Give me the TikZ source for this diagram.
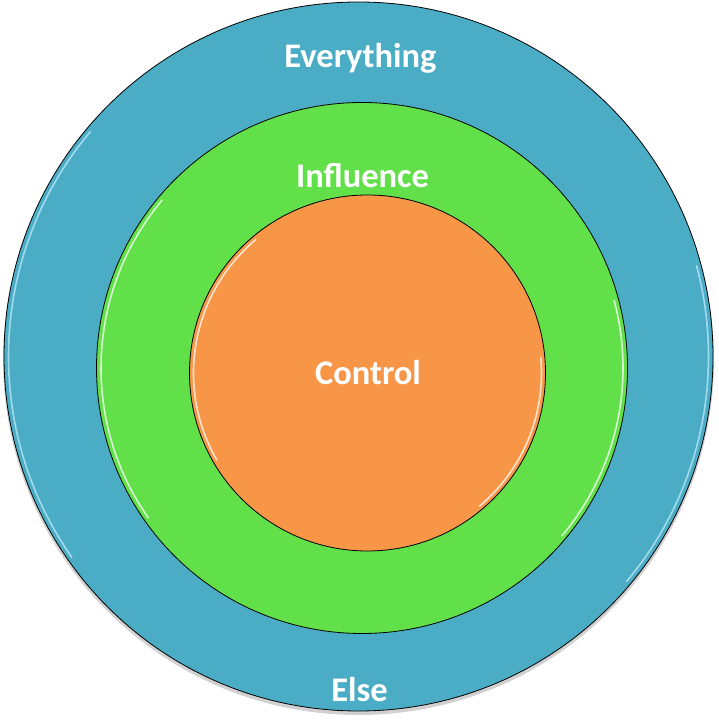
\documentclass[tikz,border=0pt]{standalone}
\usepackage{fontspec}
\setmainfont{Carlito}
\usetikzlibrary{positioning}
\definecolor{elseblue}{HTML}{4BACC6}
\definecolor{inflgreen}{HTML}{62E04A}
\definecolor{ctrlorange}{HTML}{F79646}

\begin{document}
\begin{tikzpicture}[x=1pt, y=1pt,
      ring/.style={circle, draw=black, line width=0.8pt, inner sep=0pt},
      lbl/.style={text=white, anchor=base, font=\fontsize{34.5}{38}\selectfont\bfseries},
      gloss/.style={white, line width=1.6pt, opacity=0.75, line cap=round}
    ]
    \useasboundingbox (0,0) rectangle (718,720);

    % soft shadow under the outer ring
    \fill[black, opacity=0.18] (358.5,360.5) circle[radius=355.5];

    % the three rings
    \node[ring, fill=elseblue, minimum size=709pt] (everything) at (358.5,363.5) {};
    \node[ring, fill=inflgreen, minimum size=531pt] (influence) at (362,352) {};
    \node[ring, fill=ctrlorange, minimum size=356pt] (control) at (367.5,347) {};

    % highlights
    \draw[gloss, cyan!25] (everything.center) ++(140:350) arc[start angle=140, end angle=215, radius=350];
    \draw[gloss, cyan!25] (everything.center) ++(-40:350) arc[start angle=-40, end angle=15, radius=350];
    \draw[gloss] (influence.center) ++(140:261) arc[start angle=140, end angle=215, radius=261];
    \draw[gloss] (influence.center) ++(-40:261) arc[start angle=-40, end angle=15, radius=261];
    \draw[gloss] (control.center) ++(130:174) arc[start angle=130, end angle=210, radius=174];
    \draw[gloss] (control.center) ++(-50:174) arc[start angle=-50, end angle=5, radius=174];

    % labels
    \node[lbl] (everythingtxt) at (360.5,652) {Everything};
    \node[lbl] (influencetxt) at (362.5,532.5) {Influence};
    \node[lbl] (controltxt) at (368,335) {Control};
    \node[lbl] (elsetxt) at (359.5,18.5) {Else};
  \end{tikzpicture}
\end{document}
